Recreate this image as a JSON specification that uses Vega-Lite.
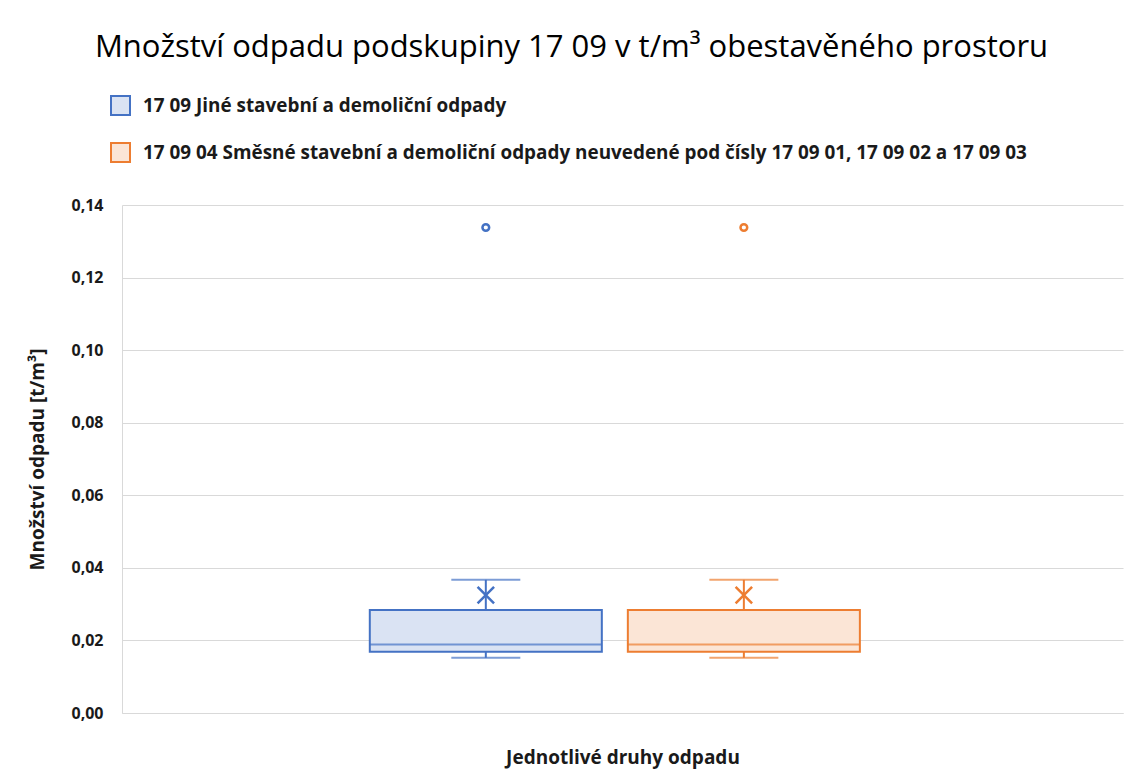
{
  "$schema": "https://vega.github.io/schema/vega-lite/v6.json",
  "width": 1001,
  "height": 508,
  "autosize": {"type": "none"},
  "padding": {"left": 122, "top": 205, "right": 4, "bottom": 67},
  "background": "white",
  "title": {
    "text": "Množství odpadu  podskupiny 17 09 v t/m³ obestavěného prostoru",
    "font": "Open Sans",
    "fontSize": 31,
    "fontWeight": "normal",
    "color": "#000000",
    "anchor": "middle",
    "frame": "group",
    "offset": 31,
    "dx": -51
  },
  "data": {
    "values": [
      {"series": "17 09 Jiné stavební a demoliční odpady", "lower": 0.0152, "q1": 0.0169, "median": 0.0189, "q3": 0.0284, "upper": 0.0367, "mean": 0.0325, "outlier": 0.1338},
      {"series": "17 09 04 Směsné stavební a demoliční odpady neuvedené pod čísly 17 09 01, 17 09 02 a 17 09 03", "lower": 0.0152, "q1": 0.0169, "median": 0.0189, "q3": 0.0284, "upper": 0.0367, "mean": 0.0325, "outlier": 0.1338}
    ]
  },
  "encoding": {
    "x": {
      "field": "series",
      "type": "nominal",
      "sort": null,
      "scale": {"type": "band", "paddingInner": 0.1008, "paddingOuter": 0.99, "align": 0.485},
      "axis": {
        "labels": false,
        "ticks": false,
        "domain": true,
        "domainColor": "#D9D9D9",
        "grid": false,
        "title": "Jednotlivé druhy odpadu",
        "titleFont": "Open Sans",
        "titleFontSize": 19,
        "titleFontWeight": "bold",
        "titleColor": "#1a1a1a",
        "titlePadding": 35
      }
    }
  },
  "layer": [
    {
      "mark": {"type": "rule", "strokeWidth": 2},
      "encoding": {
        "y": {
          "field": "lower",
          "type": "quantitative",
          "scale": {"domain": [0, 0.14], "nice": false},
          "axis": {
            "values": [0, 0.02, 0.04, 0.06, 0.08, 0.1, 0.12, 0.14],
            "labelExpr": "replace(format(datum.value, '.2f'), '.', ',')",
            "labelFont": "Open Sans",
            "labelFontSize": 16,
            "labelFontWeight": "bold",
            "labelColor": "#1a1a1a",
            "labelPadding": 19,
            "ticks": false,
            "domain": true,
            "domainColor": "#D9D9D9",
            "grid": true,
            "gridColor": "#D9D9D9",
            "gridWidth": 1,
            "title": "Množství odpadu [t/m³]",
            "titleFont": "Open Sans",
            "titleFontSize": 19,
            "titleFontWeight": "bold",
            "titleColor": "#1a1a1a",
            "titlePadding": 23
          }
        },
        "y2": {"field": "q1"},
        "color": {"field": "series", "type": "nominal", "sort": null, "scale": {"range": ["#4472C4", "#ED7D31"]}, "legend": null}
      }
    },
    {
      "mark": {"type": "rule", "strokeWidth": 2},
      "encoding": {
        "y": {"field": "q3", "type": "quantitative"},
        "y2": {"field": "upper"},
        "color": {"field": "series", "type": "nominal", "sort": null, "legend": null}
      }
    },
    {
      "mark": {"type": "tick", "size": 69, "thickness": 2, "orient": "horizontal"},
      "encoding": {
        "y": {"field": "lower", "type": "quantitative"},
        "color": {"field": "series", "type": "nominal", "sort": null, "legend": null}
      }
    },
    {
      "mark": {"type": "tick", "size": 69, "thickness": 2, "orient": "horizontal"},
      "encoding": {
        "y": {"field": "upper", "type": "quantitative"},
        "color": {"field": "series", "type": "nominal", "sort": null, "legend": null}
      }
    },
    {
      "mark": {"type": "bar", "strokeWidth": 2},
      "encoding": {
        "y": {"field": "q1", "type": "quantitative"},
        "y2": {"field": "q3"},
        "fill": {
          "field": "series",
          "type": "nominal",
          "sort": null,
          "scale": {"range": ["#DAE3F3", "#FBE5D6"]},
          "legend": {
            "orient": "none",
            "legendX": -12,
            "legendY": -110,
            "direction": "vertical",
            "title": null,
            "symbolType": "square",
            "symbolSize": 361,
            "symbolStrokeWidth": 2,
            "labelFont": "Open Sans",
            "labelFontSize": 18.9,
            "labelFontWeight": "bold",
            "labelColor": "#1a1a1a",
            "labelOffset": 12,
            "labelLimit": 1000,
            "rowPadding": 20
          }
        },
        "stroke": {
          "field": "series",
          "type": "nominal",
          "sort": null,
          "scale": {"range": ["#4472C4", "#ED7D31"]},
          "legend": {
            "orient": "none",
            "legendX": -12,
            "legendY": -110,
            "direction": "vertical",
            "title": null,
            "symbolType": "square",
            "symbolSize": 361,
            "symbolStrokeWidth": 2,
            "labelFont": "Open Sans",
            "labelFontSize": 18.9,
            "labelFontWeight": "bold",
            "labelColor": "#1a1a1a",
            "labelOffset": 12,
            "labelLimit": 1000,
            "rowPadding": 20
          }
        }
      }
    },
    {
      "mark": {"type": "tick", "size": 232, "thickness": 2, "orient": "horizontal"},
      "encoding": {
        "y": {"field": "median", "type": "quantitative"},
        "color": {"field": "series", "type": "nominal", "sort": null, "legend": null}
      }
    },
    {
      "mark": {"type": "point", "shape": "M-1,-1L1,1M-1,1L1,-1", "size": 272, "filled": false, "strokeWidth": 2.5, "opacity": 1},
      "encoding": {
        "y": {"field": "mean", "type": "quantitative"},
        "color": {"field": "series", "type": "nominal", "sort": null, "legend": null}
      }
    },
    {
      "mark": {"type": "point", "shape": "circle", "size": 45, "filled": false, "fill": "white", "strokeWidth": 2.5, "opacity": 1},
      "encoding": {
        "y": {"field": "outlier", "type": "quantitative"},
        "color": {"field": "series", "type": "nominal", "sort": null, "legend": null}
      }
    }
  ],
  "config": {
    "view": {"stroke": null},
    "font": "Open Sans"
  }
}
